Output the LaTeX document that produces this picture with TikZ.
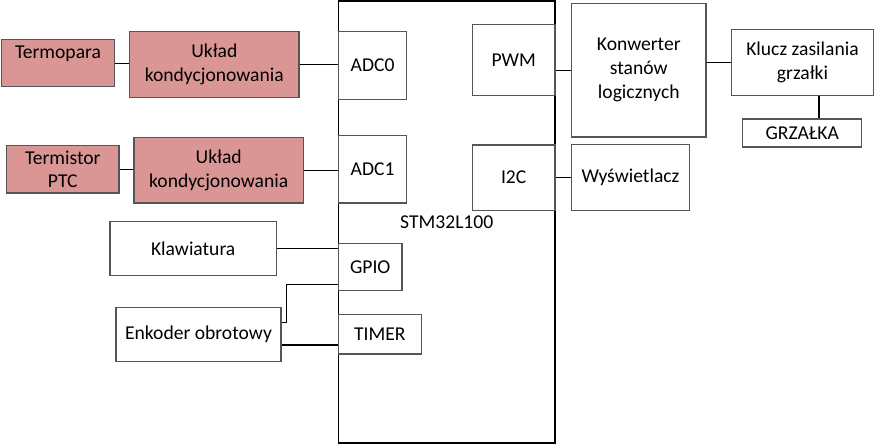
\documentclass[tikz,border=0pt]{standalone}
\usepackage{fontspec}
\setmainfont{Carlito}
\definecolor{rozowy}{RGB}{217,150,148}
\definecolor{ramka}{RGB}{85,85,85}
\begin{document}
\begin{tikzpicture}[x=1pt,y=-1pt,
	every node/.style={font=\fontsize{19.6}{23.9}\selectfont, align=center, inner sep=0pt},
	wh/.style 2 args={minimum width=#1pt, minimum height=#2pt},
	blok/.style={draw=ramka, line width=1.4pt, fill=white},
	czujnik/.style={blok, fill=rozowy},
	lacze/.style={draw=black, line width=1.1pt}]
		\useasboundingbox (0,0) rectangle (875,445);
		% mikrokontroler
		\node [blok, draw=black, line width=1.3pt, wh={216.5}{442}] (stm) at (446.75,222) {STM32L100};
		\node [blok, wh={68.2}{67.6}] (adc0) at (372.6,65.5) {ADC0};
		\node [blok, wh={68.2}{67.3}] (adc1) at (372.6,169.3) {ADC1};
		\node [blok, wh={63.5}{47}] (gpio) at (370.2,267.2) {GPIO};
		\node [blok, wh={82.8}{39.7}] (timer) at (379.9,334.2) {TIMER};
		\node [blok, wh={82.7}{71}] (pwm) at (513.7,59.8) {PWM};
		\node [blok, wh={82.7}{65.3}] (i2c) at (513.7,177.7) {I2C};
		% czujniki
		\node [czujnik, wh={112.6}{47}, text height=18.6pt, text depth=28.4pt] (termo) at (58,63.2) {Termopara};
		\node [czujnik, wh={169.3}{65.6}] (uklad0) at (214.3,64.5) {Układ\\kondycjonowania};
		\node [czujnik, wh={112.3}{47.3}] (termis) at (62.8,169.3) {Termistor\\PTC};
		\node [czujnik, wh={169.3}{65.3}] (uklad1) at (218.7,170.3) {Układ\\kondycjonowania};
		\node [blok, wh={166.3}{53.6}] (klaw) at (193.2,248.5) {Klawiatura};
		\node [blok, wh={165}{54}] (enk) at (198.5,334.3) {Enkoder obrotowy};
		% wyjscia
		\node [blok, wh={134.3}{133.7}] (konw) at (638.8,70.2) {Konwerter\\stanów\\logicznych};
		\node [blok, wh={141.6}{66}] (klucz) at (802.5,62.3) {Klucz zasilania\\grzałki};
		\node [blok, wh={119}{28}] (grz) at (802.2,133) {GRZAŁKA};
		\node [blok, wh={117.6}{66.4}] (wysw) at (630.5,177.5) {Wyświetlacz};
		% polaczenia
		\draw [lacze] (termo.east) -- (termo.east -| uklad0.west);
		\draw [lacze] (uklad0.east) -- (uklad0.east -| adc0.west);
		\draw [lacze] (termis.east) -- (termis.east -| uklad1.west);
		\draw [lacze] (uklad1.east) -- (uklad1.east -| adc1.west);
		\draw [lacze] (klaw.east) -- (klaw.east -| stm.west);
		\draw [lacze] ([yshift=11.6pt]enk.east) -- ++(4.7,0) |- ([yshift=7pt]gpio.south west);
		\draw [lacze] ([yshift=-10.7pt]enk.east) -- ([yshift=-10.7pt]enk.east -| timer.west);
		\draw [lacze] (pwm.east |- konw.west) -- (konw.west);
		\draw [lacze] (klucz.west -| konw.east) -- (klucz.west);
		\draw [lacze] ([xshift=16.5pt]klucz.south) -- ([xshift=16.5pt]klucz.south |- grz.north);
		\draw [lacze] (i2c.east) -- (i2c.east -| wysw.west);
\end{tikzpicture}
\end{document}
